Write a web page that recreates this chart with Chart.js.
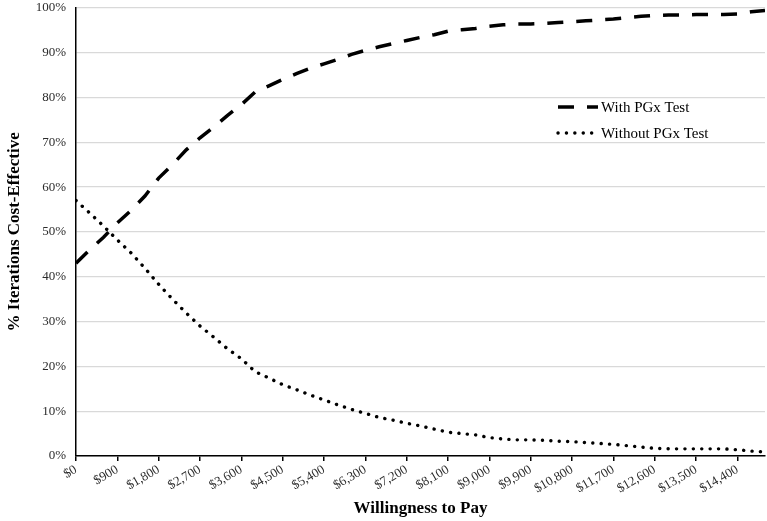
<!DOCTYPE html>
<html>
<head>
<meta charset="utf-8">
<script src="https://cdn.jsdelivr.net/npm/chart.js@4"></script>
<style>
  html, body { margin: 0; padding: 0; background: #fff; }
  #wrap { width: 767px; height: 521px; }
</style>
</head>
<body>
<div id="wrap"><canvas id="ceac" width="767" height="521"></canvas></div>
<script>
// willingness to pay ($), one point every $300
var wtp = [0, 300, 600, 900, 1200, 1500, 1800, 2100, 2400, 2700,
    3000, 3300, 3600, 3900, 4200, 4500, 4800, 5100, 5400, 5700,
    6000, 6300, 6600, 6900, 7200, 7500, 7800, 8100, 8400, 8700,
    9000, 9300, 9600, 9900, 10200, 10500, 10800, 11100, 11400, 11700,
    12000, 12300, 12600, 12900, 13200, 13500, 13800, 14100, 14400, 14700, 15000];

var withTest = [43, 46, 48.8, 52, 54.8, 58, 62, 65, 68.3, 71,
    73.4, 76, 78.4, 81.2, 82.6, 84, 85.3, 86.5, 87.5, 88.5,
    89.6, 90.5, 91.3, 92, 92.7, 93.4, 94, 94.8, 95.1, 95.4,
    95.9, 96.2, 96.4, 96.4, 96.5, 96.7, 96.9, 97.1, 97.3, 97.5,
    97.8, 98.1, 98.3, 98.4, 98.4, 98.5, 98.5, 98.5, 98.6, 99.1, 99.4];

var withoutTest = [57, 54.2, 51.3, 48.2, 45.3, 41.9, 38.3, 35, 31.9, 29,
    26.5, 23.9, 21.7, 18.8, 17.4, 15.9, 14.8, 13.6, 12.5, 11.4,
    10.4, 9.5, 8.6, 8, 7.3, 6.7, 6, 5.3, 5, 4.7,
    4.1, 3.8, 3.6, 3.6, 3.5, 3.3, 3.2, 3, 2.8, 2.6,
    2.3, 2, 1.7, 1.6, 1.6, 1.6, 1.6, 1.6, 1.4, 1.1, 0.9];

var seriesNames = ["With PGx Test", "Without PGx Test"];

var xTicks = [0, 900, 1800, 2700, 3600, 4500, 5400, 6300, 7200, 8100,
    9000, 9900, 10800, 11700, 12600, 13500, 14400];
var yTicks = [0, 10, 20, 30, 40, 50, 60, 70, 80, 90, 100];

var serif = "'Liberation Serif', 'Times New Roman', serif";

function toPoints(vals) {
    var pts = [];
    for (var i = 0; i < wtp.length; i++) {
        pts.push({ x: wtp[i], y: vals[i] });
    }
    return pts;
}

var dashPattern = [16, 13];
var dotPattern = [0.1, 8.3];

// legend drawn inside the plot, like the original
var insideLegend = {
    id: "insideLegend",
    afterDraw: function (chart) {
        var ctx = chart.ctx;
        var rows = [
            { label: seriesNames[0], dash: dashPattern, cap: "butt", width: 3.5 },
            { label: seriesNames[1], dash: dotPattern, cap: "round", width: 3.4 }
        ];
        ctx.save();
        for (var i = 0; i < rows.length; i++) {
            var y = 107 + i * 26;
            ctx.beginPath();
            ctx.setLineDash(rows[i].dash);
            ctx.lineCap = rows[i].cap;
            ctx.lineWidth = rows[i].width;
            ctx.strokeStyle = "#000";
            ctx.moveTo(558, y);
            ctx.lineTo(598, y);
            ctx.stroke();
            ctx.setLineDash([]);
            ctx.fillStyle = "#000";
            ctx.font = "15px " + serif;
            ctx.textBaseline = "middle";
            ctx.textAlign = "left";
            ctx.fillText(rows[i].label, 601, y + 1);
        }
        ctx.restore();
    }
};

var ctx = document.getElementById("ceac").getContext("2d");

var chart = new Chart(ctx, {
    type: "line",
    data: {
        datasets: [
            {
                label: seriesNames[0],
                data: toPoints(withTest),
                borderColor: "#000",
                borderWidth: 3.5,
                borderDash: dashPattern,
                borderCapStyle: "butt",
                pointRadius: 0,
                tension: 0,
                fill: false
            },
            {
                label: seriesNames[1],
                data: toPoints(withoutTest),
                borderColor: "#000",
                borderWidth: 3.4,
                borderDash: dotPattern,
                borderCapStyle: "round",
                pointRadius: 0,
                tension: 0,
                fill: false
            }
        ]
    },
    options: {
        responsive: false,
        animation: false,
        devicePixelRatio: 1,
        layout: { padding: { left: 0, right: 2, top: 0, bottom: 0 } },
        plugins: {
            legend: { display: false },
            tooltip: { enabled: false }
        },
        scales: {
            x: {
                type: "linear",
                min: 0,
                max: 15000,
                afterBuildTicks: function (scale) {
                    scale.ticks = xTicks.map(function (v) { return { value: v }; });
                },
                afterFit: function (scale) { scale.height = 65; },
                border: { display: true, color: "#000", width: 1.5 },
                grid: { drawOnChartArea: false, drawTicks: true, tickLength: 5, color: "#000", lineWidth: 1.5 },
                ticks: {
                    minRotation: 30,
                    maxRotation: 30,
                    autoSkip: false,
                    padding: 1,
                    color: "#2b2b2b",
                    font: { family: serif, size: 13 },
                    callback: function (v) { return "$" + Number(v).toLocaleString("en-US"); }
                },
                title: {
                    display: true,
                    text: "Willingness to Pay",
                    color: "#000",
                    font: { family: serif, size: 17, weight: "bold" },
                    padding: { top: 0, bottom: 2 }
                }
            },
            y: {
                min: 0,
                max: 100,
                afterBuildTicks: function (scale) {
                    scale.ticks = yTicks.map(function (v) { return { value: v }; });
                },
                afterFit: function (scale) { scale.width = 76; },
                border: { display: true, color: "#000", width: 1.5 },
                grid: { color: "#d9d9d9", lineWidth: 1.2, drawTicks: true, tickLength: 10, tickColor: "rgba(0,0,0,0)" },
                ticks: {
                    padding: 0,
                    color: "#2b2b2b",
                    font: { family: serif, size: 13 },
                    callback: function (v) { return v + "%"; }
                },
                title: {
                    display: true,
                    text: "% Iterations Cost-Effective",
                    color: "#000",
                    font: { family: serif, size: 17, weight: "bold" },
                    padding: { top: 4, bottom: 4 }
                }
            }
        }
    },
    plugins: [insideLegend]
});
</script>
</body>
</html>
